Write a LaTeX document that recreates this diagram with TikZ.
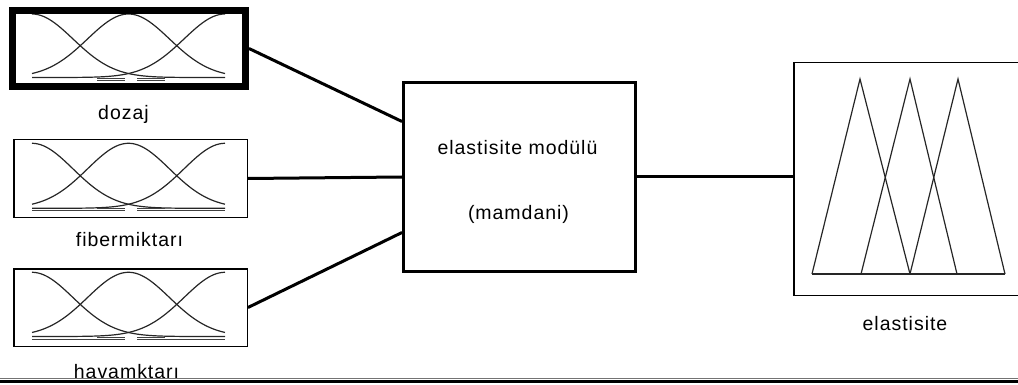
\documentclass[tikz,border=0pt]{standalone}
\usepackage{fontspec}
\newfontfamily\lblfont{Liberation Sans}[LetterSpace=5]
\begin{document}
\begin{tikzpicture}[x=1pt,y=-1pt,
  box/.style={draw=black, line width=1.5pt, inner sep=0pt, rectangle},
  lbl/.style={font=\lblfont\fontsize{19.5}{22}\selectfont, inner sep=0pt, anchor=base},
  wire/.style={line width=3pt},
  mf/.style={line width=1.2pt, draw=black!85},
  tail/.style={line width=0.9pt, draw=black!75},
]
\useasboundingbox (0,0) rectangle (1018,385);
\clip (0,0) rectangle (1018,385);

% membership functions of the inputs
\foreach \yt/\yb/\lo/\hi in {14/77.5/97/165, 143.3/208.3/32/225, 272.3/336.5/32/225} {
  \draw[mf] plot[domain=32:225, samples=70, smooth] (\x, {\yb-(\yb-\yt)*exp(-0.5*((\x-32)/41)^2)});
  \draw[mf] plot[domain=32:225, samples=70, smooth] (\x, {\yb-(\yb-\yt)*exp(-0.5*((\x-128.5)/41)^2)});
  \draw[mf] plot[domain=32:225, samples=70, smooth] (\x, {\yb-(\yb-\yt)*exp(-0.5*((\x-225)/41)^2)});
  \draw[tail] (97,\yb+0.5) -- (125,\yb+0.5) (137,\yb+0.5) -- (165,\yb+0.5);
  \draw[tail] (\lo,\yb+2.5) -- (125,\yb+2.5) (137,\yb+2.5) -- (\hi,\yb+2.5);
}

% input boxes
\node[box, line width=7pt, minimum width=233pt, minimum height=76pt] (in1) at (129,48.5) {};
\node[box, minimum width=233.5pt, minimum height=77.5pt] (in2) at (130.5,178.5) {};
\node[box, minimum width=233.5pt, minimum height=77.5pt] (in3) at (130.5,307.5) {};

% FIS box and output box
\node[box, line width=3pt, minimum width=232pt, minimum height=189pt] (fis) at (519.5,177) {};
\node[box, minimum width=240pt, minimum height=232.5pt] (out) at (913.75,179) {};

% output membership functions
\draw[mf] (812,274) -- (860,79) -- (910,274);
\draw[mf] (861,274) -- (910,79) -- (957,274);
\draw[mf] (910,274) -- (958,79) -- (1005,274);
\draw[mf] (812,274) -- (1005,274);

% labels
\node[lbl] (l1) at (123.5,120) {dozaj};
\node[lbl] (l2) at (129.5,246) {fibermiktarı};
\node[lbl] (l3) at (126.5,378) {havamktarı};
\node[lbl] (t1) at (517.5,155) {elastisite modülü};
\node[lbl] (t2) at (518.5,219) {(mamdani)};
\node[lbl] (l4) at (905,330) {elastisite};

% connectors
\draw[wire] (in1.east) -- ([yshift=55.5pt]fis.west);
\draw[wire] (in2.east) -- (fis.west);
\draw[wire] (in3.east) -- ([yshift=-55.5pt]fis.west);
\draw[wire] (fis.east) -- (fis.east -| out.west);

% bottom frame line
\draw[line width=1pt, draw=black!55] (0,378.5) -- (1018,378.5);
\draw[line width=3pt] (0,381) -- (1018,381);
\end{tikzpicture}
\end{document}
